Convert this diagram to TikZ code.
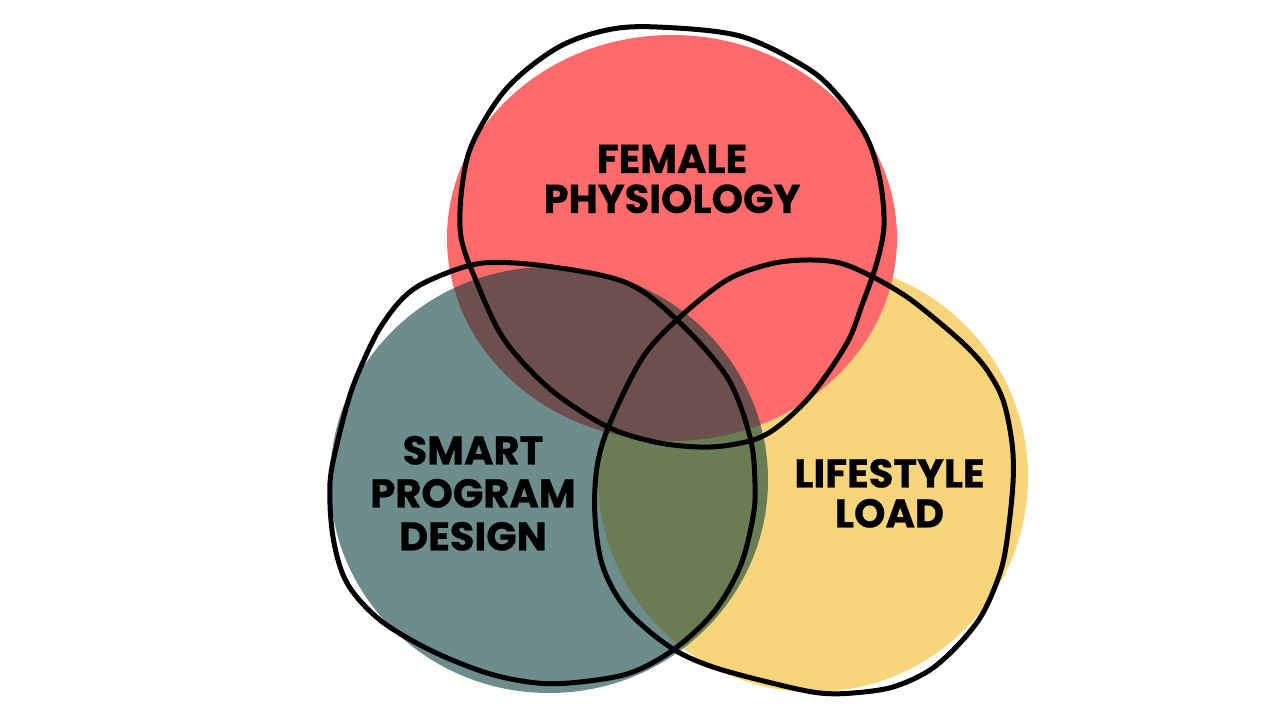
\documentclass[tikz,border=0pt]{standalone}
\usepackage{fontspec}
\setmainfont{Poppins}[BoldFeatures={FakeBold=0.6}]
\definecolor{vred}{RGB}{255,107,107}
\definecolor{vyellow}{RGB}{248,213,122}
\definecolor{vteal}{RGB}{5,60,57}
\tikzset{
  outline/.style={draw=black, line width=5pt, line join=round},
  label/.style={inner sep=0pt, align=center, font=\bfseries\fontsize{40}{40}\selectfont, text=black},
}
\begin{document}
\begin{tikzpicture}[x=1pt, y=-1pt]
\useasboundingbox (0,0) rectangle (1280,720);
\fill[white] (0,0) rectangle (1280,720);
% filled discs
\fill[vyellow] (813,477) ellipse [x radius=215, y radius=215];
\fill[vred] (672,238) ellipse [x radius=225, y radius=203];
\fill[vteal, fill opacity=0.58] (549,480) ellipse [x radius=219, y radius=213];
% hand-drawn outlines
\draw[outline] plot[smooth cycle, tension=0.55] coordinates {
 (657,27) (740,36) (807,68) (840,98) (867,138) (880,180) (884,225) (877,262)
 (862,305) (847,343) (813,393) (780,425) (753,440) (710,447) (660,443) (610,428)
 (560,397) (527,367) (500,333) (477,283) (461,237) (462,187) (473,142) (507,88)
 (557,48) (607,30)};
\draw[outline] plot[smooth cycle, tension=0.55] coordinates {
 (483,263) (553,267) (627,283) (677,320) (727,377) (750,437) (755,483) (753,517)
 (740,567) (713,613) (673,650) (630,673) (580,682) (537,683) (487,673) (430,650)
 (380,620) (347,583) (333,537) (330,483) (338,440) (350,395) (363,362) (380,328)
 (403,298) (430,280)};
\draw[outline] plot[smooth cycle, tension=0.55] coordinates {
 (807,260) (840,263) (873,277) (907,297) (940,323) (967,347) (987,370) (1003,400)
 (1012,443) (1013,483)
 (1007,540) (1000,573) (983,613) (960,643) (930,670) (893,687) (853,693) (820,693)
 (780,685) (713,667) (670,647) (627,610) (603,567) (595,517) (597,467) (610,423)
 (643,357) (680,317) (727,280) (770,264)};
% labels
\node[label] (female) at (672,179) {FEMALE\\PHYSIOLOGY};
\node[label, font=\bfseries\fontsize{40}{43}\selectfont] (smart) at (473,493.3) {SMART\\PROGRAM\\DESIGN};
\node[label] (life) at (889.5,493.3) {LIFESTYLE\\LOAD};
\end{tikzpicture}
\end{document}
